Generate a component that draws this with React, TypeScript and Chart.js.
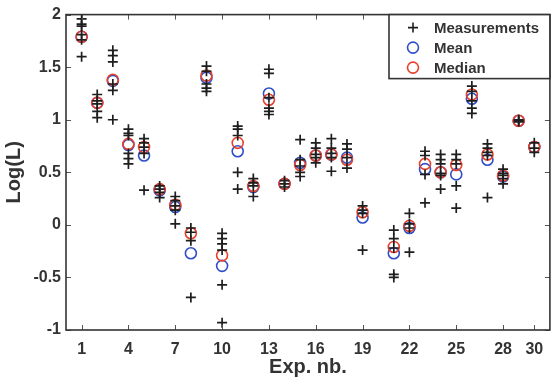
import React, { useEffect, useRef } from "react";
import { Chart, registerables } from "chart.js";

Chart.register(...registerables);

const expNumbers = [1, 2, 3, 4, 5, 6, 7, 8, 9, 10, 11, 12, 13, 14, 15, 16, 17, 18, 19, 21, 22, 23, 24, 25, 26, 27, 28, 29, 30];
const measurements: number[][] = [
  [1.96, 1.91, 1.89, 1.81, 1.76, 1.6],
  [1.24, 1.18, 1.15, 1.08, 1.02],
  [1.66, 1.61, 1.55, 1.34, 1.28, 1.0],
  [0.91, 0.87, 0.85, 0.68, 0.63, 0.58],
  [0.82, 0.78, 0.74, 0.68, 0.33],
  [0.37, 0.34, 0.31, 0.26],
  [0.27, 0.23, 0.18, 0.14, 0.01],
  [-0.03, -0.07, -0.15, -0.69],
  [1.51, 1.46, 1.34, 1.3, 1.27],
  [-0.08, -0.13, -0.18, -0.24, -0.57, -0.93],
  [0.94, 0.91, 0.85, 0.5, 0.34],
  [0.44, 0.4, 0.37, 0.27],
  [1.48, 1.44, 1.21, 1.11, 1.08, 1.05],
  [0.42, 0.39, 0.36],
  [0.81, 0.62, 0.56, 0.5, 0.46],
  [0.78, 0.73, 0.67, 0.64, 0.59],
  [0.82, 0.73, 0.68, 0.64, 0.51],
  [0.77, 0.72, 0.64, 0.54],
  [0.18, 0.14, 0.11, -0.24],
  [-0.05, -0.13, -0.22, -0.47, -0.5],
  [0.11, 0.01, -0.03, -0.26],
  [0.7, 0.66, 0.48, 0.21],
  [0.67, 0.62, 0.58, 0.49, 0.47, 0.34],
  [0.67, 0.62, 0.58, 0.37, 0.16],
  [1.32, 1.27, 1.18, 1.11, 1.06],
  [0.77, 0.73, 0.69, 0.66, 0.26],
  [0.53, 0.49, 0.47, 0.44, 0.39],
  [1.0, 0.99, 0.98],
  [0.78, 0.73, 0.69],
];
const meanValues = [1.79, 1.16, 1.37, 0.76, 0.66, 0.33, 0.17, -0.27, 1.4, -0.39, 0.7, 0.36, 1.25, 0.39, 0.59, 0.66, 0.67, 0.64, 0.07, -0.27, -0.03, 0.53, 0.5, 0.48, 1.2, 0.62, 0.46, 0.99, 0.74];
const medianValues = [1.79, 1.16, 1.38, 0.77, 0.74, 0.34, 0.19, -0.08, 1.42, -0.29, 0.78, 0.37, 1.19, 0.39, 0.57, 0.66, 0.67, 0.62, 0.12, -0.21, -0.01, 0.58, 0.5, 0.57, 1.24, 0.67, 0.47, 0.99, 0.74];
const xTickValues = [1, 4, 7, 10, 13, 16, 19, 22, 25, 28, 30];
const yTickValues = [-1, -0.5, 0, 0.5, 1, 1.5, 2];
const legendLabels = ["Measurements", "Mean", "Median"];
const xTitle = "Exp. nb.";
const yTitle = "Log(L)";

const FONT = "Arial, 'Liberation Sans', Helvetica, sans-serif";
const INK = "#333333";
const BLUE = "#2f4fc8";
const RED = "#e8402a";
const CROSS = "#1e1e1e";

const framePlugin = {
  id: "frameAndLegend",
  afterDraw(chart: any) {
    const { ctx, chartArea } = chart;
    const { left, right, top, bottom } = chartArea;
    const xs = chart.scales.x;
    const ys = chart.scales.y;
    ctx.save();
    // inward tick marks
    ctx.strokeStyle = "#555";
    ctx.lineWidth = 1;
    const tl = 5;
    ctx.beginPath();
    xTickValues.forEach((v) => {
      const px = Math.round(xs.getPixelForValue(v)) + 0.5;
      ctx.moveTo(px, bottom);
      ctx.lineTo(px, bottom - tl);
      ctx.moveTo(px, top);
      ctx.lineTo(px, top + tl);
    });
    yTickValues.forEach((v) => {
      const py = Math.round(ys.getPixelForValue(v)) + 0.5;
      ctx.moveTo(left, py);
      ctx.lineTo(left + tl, py);
      ctx.moveTo(right, py);
      ctx.lineTo(right - tl, py);
    });
    ctx.stroke();
    // frame
    ctx.strokeStyle = INK;
    ctx.lineWidth = 1.6;
    ctx.strokeRect(left, top, right - left, bottom - top);

    // legend box
    const bx = 389;
    const by = top;
    const bw = right - bx;
    const bh = 64;
    ctx.fillStyle = "#ffffff";
    ctx.fillRect(bx, by, bw, bh);
    ctx.strokeStyle = INK;
    ctx.lineWidth = 1.6;
    ctx.strokeRect(bx, by, bw, bh);
    const rows = [by + 13, by + 33, by + 53];
    const mx = 413;
    // cross
    ctx.strokeStyle = CROSS;
    ctx.lineWidth = 1.6;
    ctx.beginPath();
    ctx.moveTo(mx - 5, rows[0]);
    ctx.lineTo(mx + 5, rows[0]);
    ctx.moveTo(mx, rows[0] - 5);
    ctx.lineTo(mx, rows[0] + 5);
    ctx.stroke();
    ctx.strokeStyle = BLUE;
    ctx.beginPath();
    ctx.arc(mx, rows[1], 5.5, 0, Math.PI * 2);
    ctx.stroke();
    ctx.strokeStyle = RED;
    ctx.beginPath();
    ctx.arc(mx, rows[2], 5.5, 0, Math.PI * 2);
    ctx.stroke();
    ctx.fillStyle = INK;
    ctx.font = `bold 15px ${FONT}`;
    ctx.textBaseline = "middle";
    ctx.textAlign = "left";
    legendLabels.forEach((t, i) => ctx.fillText(t, 434, rows[i] + 1));
    ctx.restore();
  },
};

export default function App() {
  const canvasRef = useRef<HTMLCanvasElement | null>(null);

  useEffect(() => {
    document.body.style.margin = "0";
    const canvas = canvasRef.current;
    if (!canvas) return;

    const measPoints: { x: number; y: number }[] = [];
    expNumbers.forEach((e, i) => {
      measurements[i].forEach((v) => measPoints.push({ x: e, y: v }));
    });
    const meanPoints = expNumbers.map((e, i) => ({ x: e, y: meanValues[i] }));
    const medianPoints = expNumbers.map((e, i) => ({ x: e, y: medianValues[i] }));

    const chart = new Chart(canvas, {
      type: "scatter",
      data: {
        datasets: [
          {
            label: legendLabels[0],
            data: measPoints,
            pointStyle: "cross",
            pointRadius: 5,
            borderColor: CROSS,
            backgroundColor: CROSS,
            pointBorderWidth: 1.7,
            order: 0,
          },
          {
            label: legendLabels[1],
            data: meanPoints,
            pointStyle: "circle",
            pointRadius: 5.5,
            borderColor: BLUE,
            backgroundColor: "rgba(0,0,0,0)",
            pointBorderWidth: 1.6,
            order: 2,
          },
          {
            label: legendLabels[2],
            data: medianPoints,
            pointStyle: "circle",
            pointRadius: 5.5,
            borderColor: RED,
            backgroundColor: "rgba(0,0,0,0)",
            pointBorderWidth: 1.6,
            order: 1,
          },
        ],
      },
      options: {
        responsive: false,
        animation: false,
        devicePixelRatio: 1,
        layout: { padding: { top: 12, right: 4, bottom: 0, left: 0 } },
        plugins: {
          legend: { display: false },
          tooltip: { enabled: false },
        },
        scales: {
          x: {
            type: "linear",
            min: 0,
            max: 31,
            grid: { display: false, drawTicks: false },
            border: { display: false },
            afterBuildTicks: (scale: any) => {
              scale.ticks = xTickValues.map((v) => ({ value: v }));
            },
            afterFit: (scale: any) => {
              scale.height = 49;
            },
            ticks: {
              autoSkip: false,
              maxRotation: 0,
              padding: 10,
              color: INK,
              font: { family: FONT, size: 16, weight: "bold" },
              callback: (v: any) => String(v),
            },
            title: {
              display: true,
              text: xTitle,
              color: INK,
              font: { family: FONT, size: 20, weight: "bold" },
              padding: { top: 0, bottom: 0 },
            },
          },
          y: {
            type: "linear",
            min: -1,
            max: 2,
            grid: { display: false, drawTicks: false },
            border: { display: false },
            afterBuildTicks: (scale: any) => {
              scale.ticks = yTickValues.map((v) => ({ value: v }));
            },
            afterFit: (scale: any) => {
              scale.width = 66;
            },
            ticks: {
              autoSkip: false,
              padding: 5,
              color: INK,
              font: { family: FONT, size: 16, weight: "bold" },
              callback: (v: any) => String(v),
            },
            title: {
              display: true,
              text: yTitle,
              color: INK,
              font: { family: FONT, size: 20, weight: "bold" },
              padding: { top: 2, bottom: 0 },
            },
          },
        },
      },
      plugins: [framePlugin],
    });

    return () => chart.destroy();
  }, []);

  return (
    <div style={{ width: 557, height: 379, position: "relative" }}>
      <canvas ref={canvasRef} width={557} height={379} style={{ display: "block" }} />
    </div>
  );
}
